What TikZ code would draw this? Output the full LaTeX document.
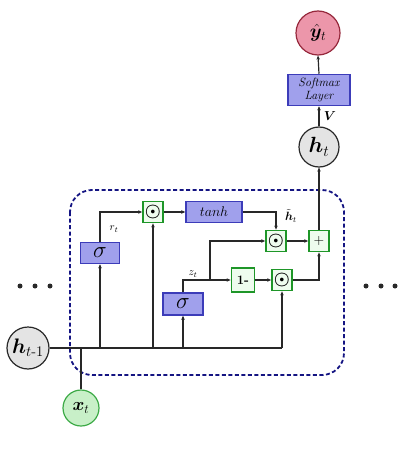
\RequirePackage{fix-cm}
\documentclass[tikz,border=0pt]{standalone}
\usepackage{amsmath}
\usepackage{bm}
\usetikzlibrary{arrows.meta}
\definecolor{bfill}{RGB}{160,160,236}
\definecolor{bdraw}{RGB}{60,60,185}
\definecolor{gdraw}{RGB}{30,150,40}
\definecolor{gfill}{RGB}{238,252,238}
\definecolor{navy}{RGB}{20,20,130}
\definecolor{pfill}{RGB}{236,150,170}
\definecolor{pdraw}{RGB}{150,40,60}
\definecolor{xfill}{RGB}{200,240,200}
\definecolor{xdraw}{RGB}{60,170,70}
\definecolor{hfill}{RGB}{228,228,228}
\definecolor{ln}{RGB}{40,40,40}
\begin{document}
\begin{tikzpicture}[x=1pt,y=-1pt,
  conn/.style={draw=ln, line width=1.2pt, -{Stealth[length=4pt,width=3.5pt]}},
  plain/.style={draw=ln, line width=1.2pt},
  bbox/.style={draw=bdraw, fill=bfill, line width=1.5pt, inner sep=0pt},
  gbox/.style={draw=gdraw, fill=gfill, line width=1.8pt, inner sep=0pt, minimum width=20pt, minimum height=21pt},
  circ/.style={circle, draw=ln, line width=1.2pt, inner sep=0pt},
  lab/.style={inner sep=0pt}]
\useasboundingbox (0,0) rectangle (410,468);
% nodes
\node[circ, fill=pfill, draw=pdraw, minimum size=44pt, font=\fontsize{19}{21}\selectfont] (y) at (318,33) {$\hat{\bm y}_t$};
\node[bbox, minimum width=62pt, minimum height=31pt, font=\fontsize{12}{13}\selectfont\itshape, align=center] (soft) at (319,90) {Softmax\\Layer};
\node[circ, fill=hfill, minimum size=40pt, font=\fontsize{22}{24}\selectfont] (ht) at (319,147) {$\bm h_t$};
\draw[navy, line width=1.8pt, dash pattern=on 4pt off 2.5pt, rounded corners=22pt] (70,190) rectangle (344,375);
\node[circ, fill=hfill, minimum size=42pt, font=\fontsize{21}{23}\selectfont] (hp) at (28,348) {$\bm h_{t\text{-}1}$};
\node[circ, fill=xfill, draw=xdraw, minimum size=36pt, font=\fontsize{18}{20}\selectfont] (x) at (81,408) {$\bm x_t$};
\node[bbox, minimum width=39pt, minimum height=21pt, font=\fontsize{23}{24}\selectfont] (s1) at (100,253) {$\sigma$};
\node[gbox, font=\fontsize{18}{18}\selectfont] (o1) at (153,212) {$\bm\odot$};
\node[bbox, minimum width=56pt, minimum height=21pt, font=\fontsize{14}{16}\selectfont] (tanh) at (214,212) {$tanh$};
\node[gbox, font=\fontsize{18}{18}\selectfont] (o2) at (276,241) {$\bm\odot$};
\node[gbox, font=\fontsize{14}{15}\selectfont] (plus) at (319,241) {$+$};
\node[bbox, minimum width=40pt, minimum height=22pt, font=\fontsize{23}{24}\selectfont] (s2) at (183,304) {$\sigma$};
\node[gbox, minimum width=23pt, minimum height=24pt, font=\fontsize{13}{14}\selectfont\bfseries] (om) at (243,280) {1-};
\node[gbox, font=\fontsize{18}{18}\selectfont] (o3) at (282,280) {$\bm\odot$};
\coordinate (zj) at (210,280);
\coordinate (mend) at (o3|-hp);
% connectors
\draw[plain] (hp.east) -- (mend);
\draw[plain] (x.north) -- (x|-hp);
\draw[conn] (s1|-hp) -- (s1.south);
\draw[conn] (s1.north) |- (o1.west);
\draw[conn] (o1|-hp) -- (o1.south);
\draw[conn] (o1.east) -- (tanh.west);
\draw[conn] (tanh.east) -| (o2.north);
\draw[conn] (o2.east) -- (plus.west);
\draw[conn] (s2|-hp) -- (s2.south);
\draw[plain] (s2.north) |- (zj);
\draw[conn] (zj) -- (om.west);
\draw[conn] (zj) |- (o2.west);
\draw[conn] (om.east) -- (o3.west);
\draw[conn] (mend) -- (o3.south);
\draw[conn] (o3.east) -| (plus.south);
\draw[conn] (plus.north) -- (ht.south);
\draw[conn] (ht.north) -- (soft.south);
\draw[conn] (soft.north) -- (y.south);
% labels
\node[lab, font=\fontsize{11}{12}\selectfont] (rl) at (114,229) {$r_t$};
\node[lab, font=\fontsize{11}{12}\selectfont] (zl) at (193,274) {$z_t$};
\node[lab, font=\fontsize{12}{14}\selectfont] (hl) at (291,216) {$\tilde{\bm h}_t$};
\node[lab, font=\fontsize{13}{15}\selectfont] (vl) at (330,116) {$\bm V$};
% dots
\foreach \xx in {20,35,50} \fill[ln] (\xx,286) circle (2.5pt);
\foreach \xx in {366,381,395} \fill[ln] (\xx,286) circle (2.5pt);
\end{tikzpicture}
\end{document}
